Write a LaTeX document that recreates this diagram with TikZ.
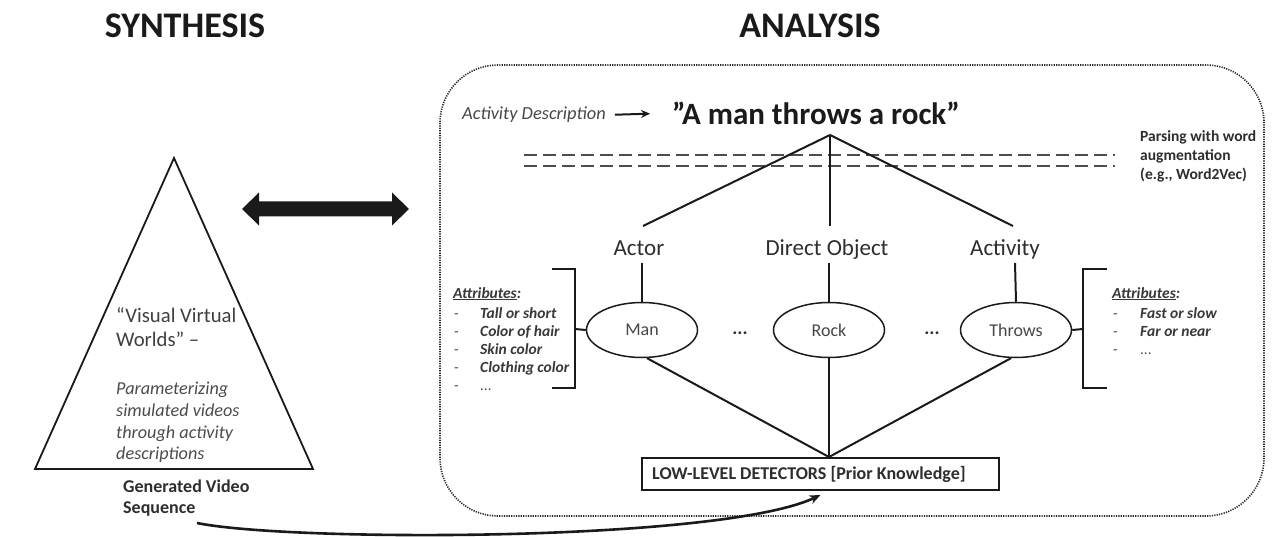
\documentclass[tikz,border=0pt]{standalone}
\usepackage{fontspec}
\setmainfont{Carlito}
\usetikzlibrary{arrows.meta,shapes.geometric}
\definecolor{txt}{HTML}{2E2E2E}
\definecolor{ln}{HTML}{1A1A1A}
\begin{document}
\begin{tikzpicture}[x=1pt,y=-1pt,
  heading/.style={font=\fontsize{36}{36}\selectfont\bfseries, text=ln, inner sep=0},
  lbl/.style={font=\fontsize{23}{23}\selectfont, text=txt, inner sep=0, anchor=base, text height=29pt, text depth=9pt},
  ell/.style={draw=ln, line width=1.5pt, ellipse, minimum width=111pt, minimum height=55pt, inner sep=0, font=\fontsize{18}{18}\selectfont, text=black!72},
  tree/.style={draw=ln, line width=2pt},
  attr/.style={font=\fontsize{15.5}{15.5}\selectfont\bfseries\itshape, text=black!78, anchor=base west, inner sep=0},
  bullet dash/.style={font=\fontsize{15}{15}\selectfont, text=black!70, anchor=base west, inner sep=0},
  tri/.style={font=\fontsize{20.7}{20.7}\selectfont, text=black!75, anchor=base west, inner sep=0},
  trii/.style={font=\fontsize{18.2}{18.2}\selectfont\itshape, text=black!70, anchor=base west, inner sep=0},
  gen/.style={font=\fontsize{18}{18}\selectfont\bfseries, text=txt, anchor=base west, inner sep=0},
  pars/.style={font=\fontsize{15.5}{15.5}\selectfont\bfseries, text=txt, anchor=base west, inner sep=0},
  dotsn/.style={font=\fontsize{19}{19}\selectfont\bfseries, text=txt, inner sep=0},
]
\useasboundingbox (0,0) rectangle (1281,537);
\fill[white] (0,0) rectangle (1281,537);

% headings
\node[heading] (synth) at (185,26) {SYNTHESIS};
\node[heading] (anal) at (810,26) {ANALYSIS};

% triangle
\draw[ln, line width=1.8pt, line join=miter] (174,158) -- (313,469) -- (35,469) -- cycle;
\draw[ln, line width=2.6pt] (35,469) -- (313,469);
\node[tri] (vv1) at (116,322) {“Visual Virtual};
\node[tri] (vv2) at (116,346) {Worlds” –};
\node[trii] (p1) at (116,394) {Parameterizing};
\node[trii] (p2) at (116,416) {simulated videos};
\node[trii] (p3) at (116,438) {through activity};
\node[trii] (p4) at (116,459) {descriptions};
\node[gen] (g1) at (123,492) {Generated Video};
\node[gen] (g2) at (123,513) {Sequence};
\coordinate (seqend) at (197,523);

% double arrow
\fill[ln] (242,209) -- (259,192.5) -- (259,201.5) -- (392,201.5) -- (392,192.5) -- (409,209)
  -- (392,225.5) -- (392,216.5) -- (259,216.5) -- (259,225.5) -- cycle;

% dotted analysis box
\draw[black!85, line width=1.6pt, dash pattern=on 1.2pt off 1.2pt, rounded corners=58pt]
  (440,65) rectangle (1264,516);

% activity description
\node[font=\fontsize{18.4}{18.4}\selectfont\itshape, text=black!72, anchor=west, inner sep=0] (actdesc) at (462,115) {Activity Description};
\node[font=\fontsize{31}{31}\selectfont\bfseries, text=ln, anchor=west, inner sep=0] (quote) at (672,113) {"A man throws a rock”};
\draw[ln, line width=2pt, -{Stealth[length=9pt,width=8pt]}, shorten <=9pt, shorten >=22pt] (actdesc.east) -- (quote.west);

% dashed lines
\draw[black!70, line width=2.4pt, dash pattern=on 13pt off 6pt] (524,155) -- (1115,155);
\draw[black!70, line width=2.4pt, dash pattern=on 13pt off 6pt] (524,166) -- (1115,166);
\node[pars] (pa1) at (1140,142) {Parsing with word};
\node[pars] (pa2) at (1140,161) {augmentation};
\node[pars] (pa3) at (1140,180) {(e.g., Word2Vec)};

% tree
\coordinate (apex) at (830,135);
\node[lbl] (actor) at (639,255) {Actor};
\node[lbl] (dobj) at (827,255) {Direct Object};
\node[lbl] (activity) at (1005,255) {Activity};
\coordinate (actorTop) at (643,226);
\coordinate (activityTop) at (1013,226);
\draw[tree] (apex) -- (actorTop);
\draw[tree] (apex) -- (830,226);
\draw[tree] (apex) -- (activityTop);

\node[ell] (man) at (642,330) {Man};
\node[ell] (rock) at (829,330) {Rock};
\node[ell] (throws) at (1016,330) {Throws};
\draw[tree] (642,263) -- (man.north);
\draw[tree] (829,263) -- (rock.north);
\draw[tree] (1015,263) -- (throws.north);

\node[dotsn] (d1) at (740,333) {...};
\node[dotsn] (d2) at (932,333) {...};

% low-level detectors
\node[draw=ln, line width=2pt, minimum width=357pt, minimum height=32pt, inner sep=0] (low) at (820.5,474) {};
\node[font=\fontsize{18}{18}\selectfont\bfseries, text=txt, anchor=west, inner sep=0] (lowtxt) at (652,474) {LOW-LEVEL DETECTORS [Prior Knowledge]};
\coordinate (conv) at (829,457);
\draw[tree] (man.-80) -- (conv);
\draw[tree] (rock.south) -- (conv);
\draw[tree] (throws.-100) -- (conv);

% curved arrow
\draw[ln, line width=2.6pt, -{Stealth[length=11pt,width=9pt]}] (seqend) .. controls (290,542) and (720,542) .. ([yshift=-4pt]low.south);

% left bracket
\draw[ln, line width=2pt] (552,269) -- (575,269) -- (575,388) -- (552,388);
\draw[ln, line width=2pt] (575,329) -- (man.west);
\node[attr] (la0) at (453,298) {\underline{Attributes}:};
\foreach \y/\t [count=\i] in {318/Tall or short,336/Color of hair,354/Skin color,372/Clothing color}{
  \node[bullet dash] (ld\i) at (454,\y) {-};
  \node[attr] (li\i) at (480,\y) {\t};
}
\node[bullet dash] (ld5) at (454,390) {-};
\node[bullet dash] (li5) at (480,390) {...};

% right bracket
\draw[ln, line width=2pt] (1107,269) -- (1083,269) -- (1083,388) -- (1107,388);
\draw[ln, line width=2pt] (1083,329) -- (throws.east);
\node[attr] (ra0) at (1112,298) {\underline{Attributes}:};
\node[bullet dash] (rd1) at (1113,318) {-};
\node[attr] (ri1) at (1140,318) {Fast or slow};
\node[bullet dash] (rd2) at (1113,336) {-};
\node[attr] (ri2) at (1140,336) {Far or near};
\node[bullet dash] (rd3) at (1113,354) {-};
\node[bullet dash] (ri3) at (1140,354) {...};
\end{tikzpicture}
\end{document}
